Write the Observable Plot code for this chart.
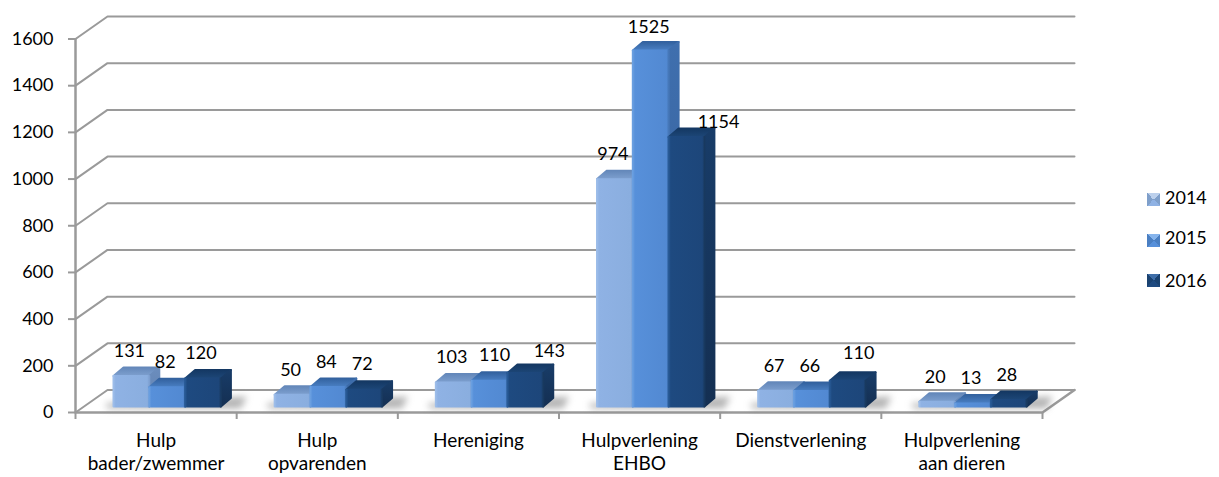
<!DOCTYPE html>
<html><head><meta charset="utf-8">
<script src="https://cdn.jsdelivr.net/npm/d3@7"></script>
<script src="https://cdn.jsdelivr.net/npm/@observablehq/plot@0.6"></script>
<style>
html,body{margin:0;padding:0;background:#fff}
#wrap{position:relative;width:1219px;height:477px;font-family:Lato,sans-serif;color:#000}
.lg{position:absolute;left:1165px;font-size:18px;line-height:20px}
.sw{position:absolute;left:1147px;width:13px;height:13px}
</style></head><body><div id="wrap"></div>
<script>
const categories = ["Hulp\nbader/zwemmer","Hulp\nopvarenden","Hereniging","Hulpverlening\nEHBO","Dienstverlening","Hulpverlening\naan dieren"];
const years = ["2014","2015","2016"];
const values2014 = [131,50,103,974,67,20];
const values2015 = [82,84,110,1525,66,13];
const values2016 = [120,72,143,1154,110,28];
const series = [values2014,values2015,values2016];
const yTicks = [0,200,400,600,800,1000,1200,1400,1600];

// Oblique projection: pixel offsets expressed in data units
const left=75,right=1042,top0=38.5,base=412;
const ux=(right-left)/categories.length, uy=(base-top0)/1600;
const P=(cat,val,ox=0,oy=0)=>({x:cat+ox/ux,y:val+oy/uy});
const wallDx=32,wallDy=22.5;
const barStart=38,barW=35.8,barLift=6,depthX=10,depthY=8.5;

const wall=[];
yTicks.forEach(v=>[P(0,v),P(0,v,wallDx,wallDy),P(categories.length,v,wallDx,wallDy)].forEach(p=>wall.push({...p,k:v})));
const floor=[P(0,0),P(categories.length,0),P(categories.length,0,wallDx,wallDy)];

const faces=[],shadow=[],labels=[];
const nudge={"2,1":[7,1],"2,2":[26,-3],"3,1":[0,-2],"3,2":[34,-10],"4,2":[13,3]};
const poly=(id,fill,pts)=>pts.concat([pts[0]]).forEach(p=>faces.push({...p,id,fill}));
categories.forEach((_,c)=>{
  const corners=[P(c,0,barStart-8,barLift+3),P(c,0,barStart+3*barW+26,barLift+10),P(c,0,barStart+3*barW+20,barLift-2),P(c,0,barStart-6,barLift-2)];
  corners.forEach(p=>shadow.push({...p,id:c}));
  series.forEach((vals,s)=>{
    const v=vals[c], x0=barStart+s*barW, x1=x0+barW, key=`${c}-${s}`;
    poly(key+"t",`url(#t${s})`,[P(c,v,x0,barLift),P(c,v,x1,barLift),P(c,v,x1+depthX,barLift+depthY),P(c,v,x0+depthX,barLift+depthY)]);
    poly(key+"s",`url(#s${s})`,[P(c,0,x1,barLift),P(c,0,x1+depthX,barLift+depthY),P(c,v,x1+depthX,barLift+depthY),P(c,v,x1,barLift)]);
    poly(key+"f",`url(#f${s})`,[P(c,0,x0,barLift),P(c,0,x1,barLift),P(c,v,x1,barLift),P(c,v,x0,barLift)]);
    const n=nudge[[c,s]]||[0,0];
    labels.push({...P(c,v,x0+barW/2-2+n[0],barLift+25+n[1]),t:String(v)});
  });
});

const grad=(id,stops,dir)=>`<linearGradient id="${id}" ${dir}>${stops.map(([o,c])=>`<stop offset="${o}" stop-color="${c}"/>`).join("")}</linearGradient>`;
const H='x1="0" y1="0" x2="1" y2="0"',V='x1="0" y1="0" x2="0" y2="1"';
const defs=()=>{
  const g=d3.create("svg:g");
  g.html(`<defs>
  ${grad("f0",[[0,"#9dbde9"],[.06,"#8fb2e4"],[.94,"#8aaedf"],[1,"#7d9fd0"]],H)}
  ${grad("f1",[[0,"#6a9fe0"],[.06,"#5790da"],[.94,"#5289d2"],[1,"#4577b8"]],H)}
  ${grad("f2",[[0,"#285a96"],[.06,"#1e4a80"],[.94,"#1d467a"],[1,"#18395f"]],H)}
  ${grad("s0",[[0,"#6b8dbd"],[1,"#6283b2"]],V)}
  ${grad("s1",[[0,"#3f6fae"],[1,"#345d96"]],V)}
  ${grad("s2",[[0,"#183c68"],[1,"#142f52"]],V)}
  ${grad("t0",[[0,"#6488ba"],[1,"#7ea0cf"]],V)}
  ${grad("t1",[[0,"#33629f"],[1,"#4a80c4"]],V)}
  ${grad("t2",[[0,"#143863"],[1,"#1d4778"]],V)}
  </defs>`);
  return g.node();
};

const chart=Plot.plot({
  width:1219,height:477,marginLeft:left,marginRight:1219-right,marginTop:top0,marginBottom:477-base,
  style:{fontFamily:"Lato, sans-serif",fontSize:"18px",color:"#000",background:"#fff"},
  x:{domain:[0,categories.length],axis:null},
  y:{domain:[0,1600],axis:null},
  marks:[
    defs,
    Plot.line(wall,{x:"x",y:"y",z:"k",stroke:"#9a9a9a",strokeWidth:2}),
    Plot.line(floor,{x:"x",y:"y",stroke:"#9a9a9a",strokeWidth:2.5}),
    Plot.ruleX([0],{y1:0,y2:1600,stroke:"#9a9a9a",strokeWidth:2.5}),
    Plot.axisY(yTicks,{anchor:"left",tickSize:7,tickPadding:15,label:null,tickFormat:d=>String(d),stroke:"#9a9a9a",strokeWidth:2,fill:"#000"}),
    Plot.axisX(d3.range(categories.length+1),{anchor:"bottom",tickSize:7,tickPadding:0,label:null,tickFormat:()=>"",stroke:"#9a9a9a",strokeWidth:2}),
    Plot.line(shadow,{x:"x",y:"y",z:"id",fill:"#777",fillOpacity:.55,imageFilter:"blur(3.5px)"}),
    Plot.line(faces,{x:"x",y:"y",z:"id",fill:{value:d=>d.fill,scale:null},stroke:{value:d=>d.fill,scale:null},strokeWidth:2,strokeLinejoin:"round"}),
    Plot.text(labels,{x:"x",y:"y",text:"t",textAnchor:"middle",lineAnchor:"middle",fill:"#000"}),
    Plot.text(categories,{x:(d,i)=>i+.5,y:0,text:d=>d,textAnchor:"middle",lineAnchor:"top",dy:17,fontSize:19,lineHeight:1.26,fill:"#000"})
  ]
});
const wrap=document.getElementById("wrap");
wrap.appendChild(chart);
const swatchColors=[["#bcd0ec","#8fb2e4","#7f9fca","#55759f"],["#86b4ec","#5790da","#4a7fc2","#2a5690"],["#3f6ea8","#1e4a80","#1a4270","#112c4c"]];
[[193,187],[234,227],[274,270]].forEach(([sy,ty],i)=>{
  const c=swatchColors[i],sw=document.createElement("div");
  sw.className="sw";sw.style.top=sy+"px";
  sw.style.background=`conic-gradient(from -45deg,${c[0]} 0 25%,${c[2]} 25% 50%,${c[1]} 50% 75%,${c[2]} 75% 100%)`;
  wrap.appendChild(sw);
  const t=document.createElement("div");
  t.className="lg";t.style.top=ty+"px";t.textContent=years[i];
  wrap.appendChild(t);
});
</script></body></html>
